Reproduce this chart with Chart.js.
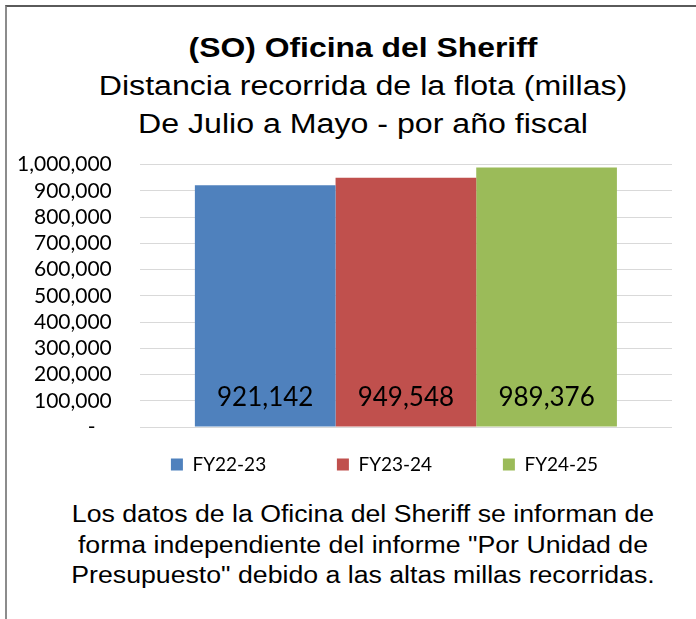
<!DOCTYPE html>
<html>
<head>
<meta charset="utf-8">
<script src="https://cdn.jsdelivr.net/npm/chart.js@4"></script>
<style>
  html, body { margin: 0; padding: 0; background: #fff; overflow: hidden; }
  #frame {
    position: absolute; left: 5px; top: 5px; width: 720px; height: 640px;
    border-top: 2px solid #5a5a5a; border-left: 2px solid #8c8c8c;
  }
  .txt {
    position: absolute; left: 0; width: 712px; text-align: center; color: #000;
    font-family: "Liberation Sans", Arial, sans-serif; white-space: nowrap;
  }
  #head { top: 22px; font-size: 27px; line-height: 38px; }
  #head b { display: block; transform: scaleX(1.18); }
  #head span { display: block; transform: scaleX(1.19); }
  #note { top: 492px; font-size: 23px; line-height: 30.5px; }
  #note span { display: block; transform: scaleX(1.16); }
  #box { position: absolute; left: -18px; top: 117px; width: 690px; height: 360px; }
</style>
</head>
<body>
<div id="frame">
  <div id="head" class="txt">
    <b>(SO) Oficina del Sheriff</b>
    <span>Distancia recorrida de la flota (millas)</span>
    <span>De Julio a Mayo - por año fiscal</span>
  </div>
  <div id="box"><canvas id="chart"></canvas></div>
  <div id="note" class="txt">
    <span>Los datos de la Oficina del Sheriff se informan de</span>
    <span>forma independiente del informe "Por Unidad de</span>
    <span>Presupuesto" debido a las altas millas recorridas.</span>
  </div>
</div>
<script>
var categories = ['De Julio a Mayo'];
var seriesNames = ['FY22-23', 'FY23-24', 'FY24-25'];
var fy2223 = [921142];
var fy2324 = [949548];
var fy2425 = [989376];
var seriesColors = ['#4F81BD', '#C0504D', '#9BBB59'];

var calibriLike = 'Lato, "Open Sans", sans-serif';

// value labels sitting near the base of each bar
var barLabels = {
    id: 'barLabels',
    afterDatasetsDraw: function(chart) {
        var ctx = chart.ctx;
        ctx.save();
        ctx.font = '26px ' + calibriLike;
        ctx.fillStyle = '#000';
        ctx.textAlign = 'center';
        ctx.textBaseline = 'middle';
        chart.data.datasets.forEach(function(ds, i) {
            chart.getDatasetMeta(i).data.forEach(function(bar, j) {
                ctx.fillText(ds.data[j].toLocaleString('en-US'), bar.x, bar.base - 29);
            });
        });
        ctx.restore();
    }
};

var ctx = document.getElementById('chart').getContext('2d');
var chart = new Chart(ctx, {
    type: 'bar',
    data: {
        labels: categories,
        datasets: [
            { label: seriesNames[0], data: fy2223, backgroundColor: seriesColors[0] },
            { label: seriesNames[1], data: fy2324, backgroundColor: seriesColors[1] },
            { label: seriesNames[2], data: fy2425, backgroundColor: seriesColors[2] }
        ]
    },
    options: {
        responsive: true,
        maintainAspectRatio: false,
        animation: false,
        datasets: { bar: { categoryPercentage: 0.793, barPercentage: 1 } },
        layout: { padding: { left: 0, right: 7, top: 12, bottom: 0 } },
        scales: {
            x: { display: false },
            y: {
                min: 0,
                max: 1000000,
                border: { display: false },
                grid: { color: '#d9d9d9', lineWidth: 1, drawTicks: false },
                ticks: {
                    stepSize: 100000,
                    autoSkip: false,
                    padding: 28,
                    color: '#000',
                    font: { family: calibriLike, size: 21 },
                    callback: function(v) { return v === 0 ? '-   ' : v.toLocaleString('en-US'); }
                }
            }
        },
        plugins: {
            legend: {
                position: 'bottom',
                fullSize: false,
                labels: {
                    boxWidth: 12,
                    boxHeight: 12,
                    padding: 28,
                    color: '#000',
                    font: { family: calibriLike, size: 19 },
                    generateLabels: function(c) {
                        var items = Chart.defaults.plugins.legend.labels.generateLabels(c);
                        items.forEach(function(it) { it.text = it.text + '\u2003\u2003\u2003'; });
                        return items;
                    }
                }
            },
            tooltip: { enabled: false }
        }
    },
    plugins: [barLabels]
});
</script>
</body>
</html>
